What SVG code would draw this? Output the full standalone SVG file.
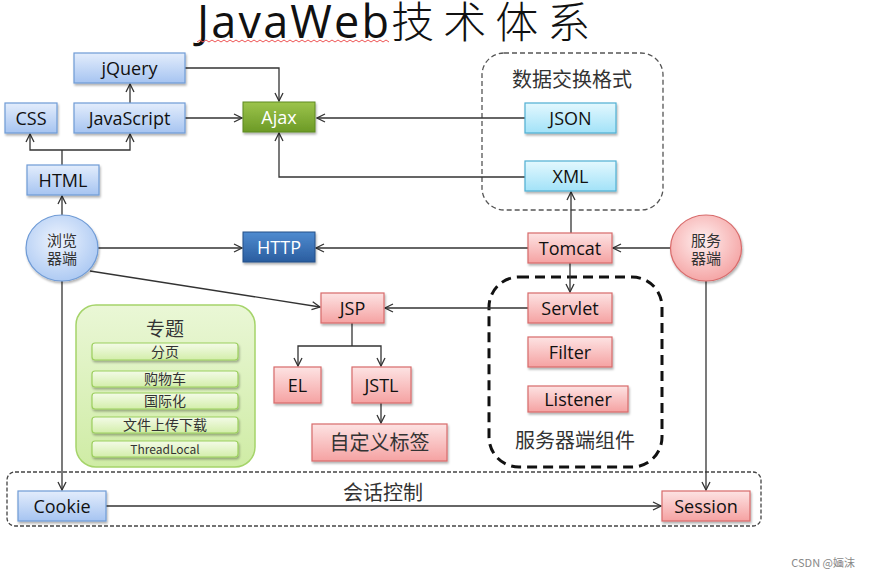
<svg xmlns="http://www.w3.org/2000/svg" width="870" height="578" viewBox="0 0 870 578">
<style>
.t{font-family:"Open Sans","Liberation Sans","Noto Sans CJK SC",sans-serif;font-size:18px;fill:#111;text-anchor:middle;dominant-baseline:central}
.c{font-family:"Noto Sans CJK SC","Noto Sans",sans-serif;fill:#333;text-anchor:middle}
.w{fill:#fff}
.blue{fill:url(#gBlue);stroke:#6f9bd6;stroke-width:1.2}
.pink{fill:url(#gPink);stroke:#d86b6b;stroke-width:1.2}
.cyan{fill:url(#gCyan);stroke:#4fb0d3;stroke-width:1.2}
.item{fill:url(#gItem);stroke:#9ccf5e;stroke-width:1.2}
.ln{fill:none;stroke:#333;stroke-width:1.3}
.ar{marker-end:url(#arr)}
</style>
<defs>
<linearGradient id="gBlue" x1="0" y1="0" x2="0" y2="1"><stop offset="0" stop-color="#e3edfc"/><stop offset="1" stop-color="#a6c4f1"/></linearGradient>
<linearGradient id="gPink" x1="0" y1="0" x2="0" y2="1"><stop offset="0" stop-color="#fde3e3"/><stop offset="1" stop-color="#f5a2a2"/></linearGradient>
<linearGradient id="gCyan" x1="0" y1="0" x2="0" y2="1"><stop offset="0" stop-color="#e3f8fe"/><stop offset="1" stop-color="#a2e2f8"/></linearGradient>
<linearGradient id="gGreen" x1="0" y1="0" x2="0" y2="1"><stop offset="0" stop-color="#9cc44c"/><stop offset="1" stop-color="#6c9a26"/></linearGradient>
<linearGradient id="gDark" x1="0" y1="0" x2="0" y2="1"><stop offset="0" stop-color="#4f8bd0"/><stop offset="1" stop-color="#2a5d9f"/></linearGradient>
<linearGradient id="gItem" x1="0" y1="0" x2="0" y2="1"><stop offset="0" stop-color="#f4fbe8"/><stop offset="1" stop-color="#d3eeaa"/></linearGradient>
<linearGradient id="gPanel" x1="0" y1="0" x2="0" y2="1"><stop offset="0" stop-color="#eaf7d6"/><stop offset="1" stop-color="#cfeca5"/></linearGradient>
<radialGradient id="rBlue" cx="0.45" cy="0.4" r="0.65"><stop offset="0" stop-color="#eef4fe"/><stop offset="1" stop-color="#a9c7f2"/></radialGradient>
<radialGradient id="rPink" cx="0.45" cy="0.4" r="0.65"><stop offset="0" stop-color="#fff0f0"/><stop offset="1" stop-color="#f4a0a0"/></radialGradient>
<filter id="sh" x="-10%" y="-10%" width="130%" height="140%"><feDropShadow dx="1" dy="2" stdDeviation="1.2" flood-color="#000" flood-opacity="0.3"/></filter>
<marker id="arr" viewBox="0 0 10 10" refX="9" refY="5" markerWidth="10" markerHeight="10" markerUnits="userSpaceOnUse" orient="auto"><path d="M1,1 L9,5 L1,9" fill="none" stroke="#333" stroke-width="1.3"/></marker>
</defs>
<rect width="870" height="578" fill="#fff"/>

<!-- title -->
<g id="title">
<text x="197" y="38" font-family="'Open Sans','Liberation Sans',sans-serif" font-size="45" letter-spacing="2.2" fill="#111">JavaWeb<tspan font-family="'Noto Sans CJK SC',sans-serif" font-size="43" font-weight="300" letter-spacing="9">技术体系</tspan></text>
<path d="M197,42 l3,-2 l3,2 l3,-2 l3,2 l3,-2 l3,2 l3,-2 l3,2 l3,-2 l3,2 l3,-2 l3,2 l3,-2 l3,2 l3,-2 l3,2 l3,-2 l3,2 l3,-2 l3,2 l3,-2 l3,2 l3,-2 l3,2 l3,-2 l3,2 l3,-2 l3,2 l3,-2 l3,2 l3,-2 l3,2 l3,-2 l3,2 l3,-2 l3,2 l3,-2 l3,2 l3,-2 l3,2 l3,-2 l3,2 l3,-2 l3,2 l3,-2 l3,2 l3,-2 l3,2 l3,-2 l3,2 l3,-2 l3,2 l3,-2 l3,2 l3,-2 l3,2 l3,-2 l3,2 l3,-2 l3,2 l3,-2 l3,2 l3,-2 l3,2" fill="none" stroke="#e55" stroke-width="1"/>
</g>

<!-- group containers -->
<g id="dataFormat">
<rect x="482" y="53" width="181" height="157" rx="22" fill="none" stroke="#555" stroke-width="1.3" stroke-dasharray="5,3"/>
<text class="c" x="572" y="87" font-size="20">数据交换格式</text>
</g>
<g id="serverComponents">
<rect x="489" y="277" width="173" height="190" rx="30" fill="none" stroke="#111" stroke-width="3" stroke-dasharray="10,6"/>
<text class="c" x="575" y="448" font-size="20">服务器端组件</text>
</g>
<g id="sessionControl">
<rect x="7" y="472" width="754" height="54" rx="8" fill="none" stroke="#444" stroke-width="1.3" stroke-dasharray="4,2"/>
<text class="c" x="383" y="500" font-size="20">会话控制</text>
</g>

<!-- connectors -->
<g id="connectors">
<path class="ln" d="M62,165 V150" stroke-width="2.2"/>
<path class="ln ar" d="M62,150 H30 V134"/>
<path class="ln ar" d="M62,150 H130 V134"/>
<path class="ln ar" d="M130,103 V84"/>
<path class="ln ar" d="M185,68 H279 V101"/>
<path class="ln ar" d="M185,118 H242"/>
<path class="ln ar" d="M525,118 H317"/>
<path class="ln ar" d="M525,177 H279 V133"/>
<path class="ln ar" d="M571,233 V192"/>
<path class="ln ar" d="M62,215 V196"/>
<path class="ln ar" d="M98,248 H242"/>
<path class="ln ar" d="M528,248 H316"/>
<path class="ln ar" d="M670,248 H613"/>
<path class="ln ar" d="M570,263 V292"/>
<path class="ln ar" d="M528,308 H385"/>
<path class="ln ar" d="M90,271 L320,307"/>
<path class="ln" d="M352,323 V346" stroke-width="2.2"/>
<path class="ln ar" d="M352,346 H298 V366"/>
<path class="ln ar" d="M352,346 H381 V366"/>
<path class="ln ar" d="M381,403 V423"/>
<path class="ln ar" d="M62,281 V490"/>
<path class="ln ar" d="M706,281 V490"/>
<path class="ln ar" d="M106,506 H661"/>
</g>

<!-- nodes -->
<g id="jquery"><rect class="blue" filter="url(#sh)" x="74" y="53" width="111" height="30"/><text class="t" x="129.5" y="68">jQuery</text></g>
<g id="css"><rect class="blue" filter="url(#sh)" x="5" y="103" width="52" height="30"/><text class="t" x="31" y="118">CSS</text></g>
<g id="javascript"><rect class="blue" filter="url(#sh)" x="74" y="103" width="111" height="30"/><text class="t" x="129.5" y="118">JavaScript</text></g>
<g id="html"><rect class="blue" filter="url(#sh)" x="27" y="165" width="72" height="30"/><text class="t" x="63" y="180">HTML</text></g>
<g id="ajax"><rect filter="url(#sh)" x="243" y="102" width="72" height="30" fill="url(#gGreen)" stroke="#5e8a20" stroke-width="1"/><text class="t w" x="279" y="117">Ajax</text></g>
<g id="json"><rect class="cyan" filter="url(#sh)" x="525" y="103" width="91" height="30"/><text class="t" x="570.5" y="118">JSON</text></g>
<g id="xml"><rect class="cyan" filter="url(#sh)" x="525" y="161" width="91" height="30"/><text class="t" x="570.5" y="176">XML</text></g>
<g id="browser"><ellipse filter="url(#sh)" cx="62" cy="248" rx="36" ry="33" fill="url(#rBlue)" stroke="#6f9bd6" stroke-width="1.2"/><text class="c" x="62" y="246" font-size="15" fill="#111">浏览</text><text class="c" x="62" y="264" font-size="15" fill="#111">器端</text></g>
<g id="http"><rect filter="url(#sh)" x="243" y="232" width="72" height="30" fill="url(#gDark)" stroke="#244f88" stroke-width="1"/><text class="t w" x="279" y="247">HTTP</text></g>
<g id="tomcat"><rect class="pink" filter="url(#sh)" x="528" y="233" width="84" height="30"/><text class="t" x="570" y="248">Tomcat</text></g>
<g id="server"><ellipse filter="url(#sh)" cx="706" cy="248" rx="35.5" ry="33" fill="url(#rPink)" stroke="#d86b6b" stroke-width="1.2"/><text class="c" x="706" y="246" font-size="15" fill="#111">服务</text><text class="c" x="706" y="264" font-size="15" fill="#111">器端</text></g>
<g id="jsp"><rect class="pink" filter="url(#sh)" x="321" y="293" width="63" height="30"/><text class="t" x="352.5" y="308">JSP</text></g>
<g id="servlet"><rect class="pink" filter="url(#sh)" x="528" y="293" width="84" height="30"/><text class="t" x="570" y="308">Servlet</text></g>
<g id="filter"><rect class="pink" filter="url(#sh)" x="528" y="337" width="84" height="30"/><text class="t" x="570" y="352">Filter</text></g>
<g id="listener"><rect class="pink" filter="url(#sh)" x="528" y="386" width="100" height="26"/><text class="t" x="578" y="399">Listener</text></g>
<g id="el"><rect class="pink" filter="url(#sh)" x="274" y="367" width="47" height="36"/><text class="t" x="297.5" y="385">EL</text></g>
<g id="jstl"><rect class="pink" filter="url(#sh)" x="352" y="367" width="59" height="36"/><text class="t" x="381.5" y="385">JSTL</text></g>
<g id="customTag"><rect class="pink" filter="url(#sh)" x="312" y="424" width="135" height="37"/><text class="c" x="379.5" y="449.5" font-size="20" fill="#222">自定义标签</text></g>
<g id="cookie"><rect class="blue" filter="url(#sh)" x="18" y="491" width="88" height="30"/><text class="t" x="62" y="506">Cookie</text></g>
<g id="session"><rect class="pink" filter="url(#sh)" x="662" y="491" width="88" height="30"/><text class="t" x="706" y="506">Session</text></g>

<g id="topics">
<rect x="76" y="305" width="179" height="162" rx="20" fill="url(#gPanel)" stroke="#a5d46a" stroke-width="1.5"/>
<text class="c" x="165" y="336" font-size="19">专题</text>
<rect class="item" filter="url(#sh)" x="92" y="343" width="146" height="17" rx="3"/><text class="c" x="165" y="357" font-size="14" fill="#222">分页</text>
<rect class="item" filter="url(#sh)" x="92" y="371" width="146" height="16" rx="3"/><text class="c" x="165" y="384" font-size="14" fill="#222">购物车</text>
<rect class="item" filter="url(#sh)" x="92" y="393" width="146" height="16" rx="3"/><text class="c" x="165" y="406" font-size="14" fill="#222">国际化</text>
<rect class="item" filter="url(#sh)" x="92" y="417" width="146" height="16" rx="3"/><text class="c" x="165" y="430" font-size="14" fill="#222">文件上传下载</text>
<rect class="item" filter="url(#sh)" x="92" y="441" width="146" height="16" rx="3"/><text class="c" x="165" y="454" font-size="12" fill="#222" font-family="'Open Sans',sans-serif">ThreadLocal</text>
</g>

<text x="855" y="567" text-anchor="end" font-family="'Noto Sans CJK SC','Noto Sans',sans-serif" font-size="11" fill="#888">CSDN @婳沫</text>
</svg>
